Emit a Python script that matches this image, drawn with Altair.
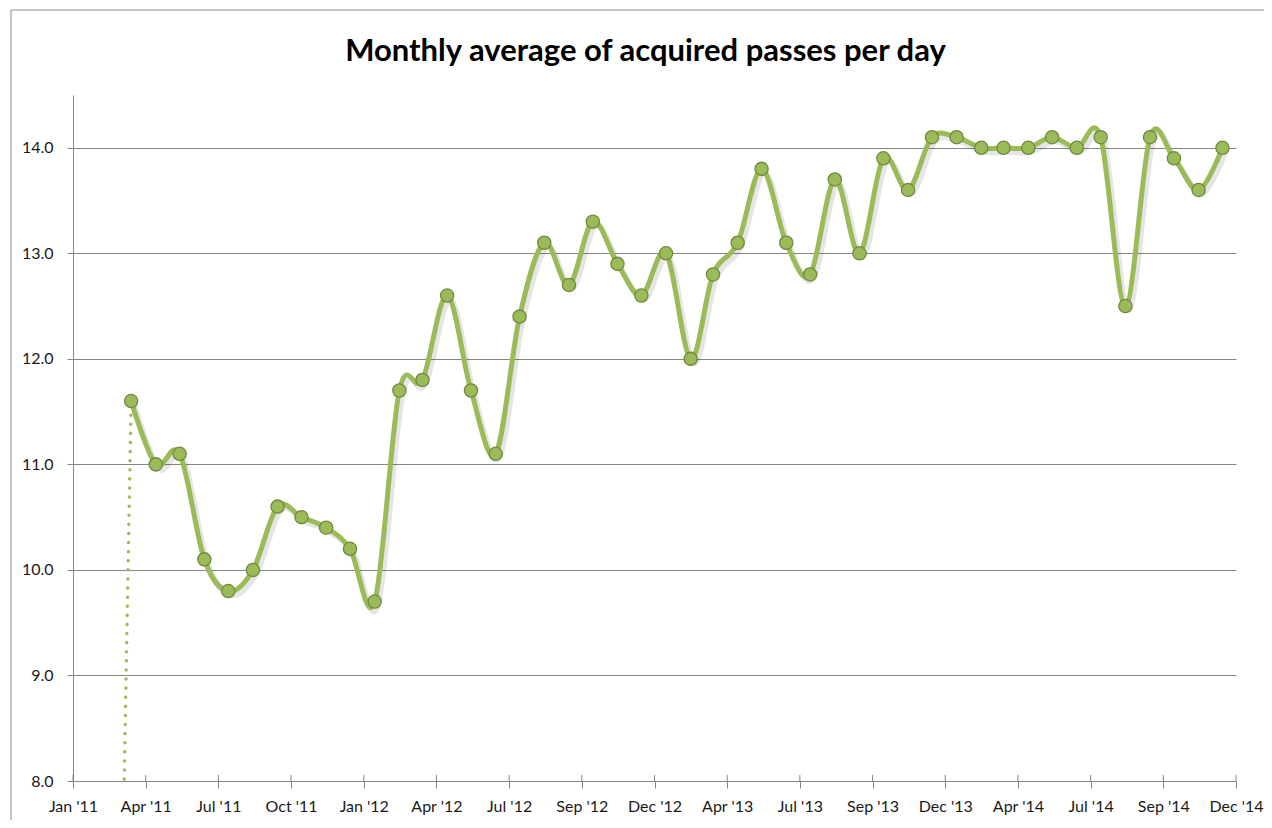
import json
import altair as alt
import pandas as pd

# ---- data ----
months = []
for y in range(2011, 2015):
    for m in range(1, 13):
        if y == 2011 and m < 3:
            continue
        months.append(f"{y}-{m:02d}-15")

passes = [11.6, 11.0, 11.1, 10.1, 9.8, 10.0, 10.6, 10.5, 10.4, 10.2,
          9.7, 11.7, 11.8, 12.6, 11.7, 11.1, 12.4, 13.1, 12.7, 13.3, 12.9, 12.6,
          13.0, 12.0, 12.8, 13.1, 13.8, 13.1, 12.8, 13.7, 13.0, 13.9, 13.6, 14.1,
          14.1, 14.0, 14.0, 14.0, 14.1, 14.0, 14.1, 12.5, 14.1, 13.9, 13.6, 14.0]

lead_dates = ["2011-02-15", "2011-03-15"]
lead_values = [0.0, 11.6]

tick_labels = ["Jan '11", "Apr '11", "Jul '11", "Oct '11", "Jan '12", "Apr '12",
               "Jul '12", "Sep '12", "Dec '12", "Apr '13", "Jul '13", "Sep '13",
               "Dec '13", "Apr '14", "Jul '14", "Sep '14", "Dec '14"]
y_ticks = [8, 9, 10, 11, 12, 13, 14]

df = pd.DataFrame({"date": months, "value": passes})
lead = pd.DataFrame({"date": lead_dates, "value": lead_values})

t0 = int(pd.Timestamp("2011-01-01", tz="UTC").timestamp() * 1000)
t1 = int(pd.Timestamp("2015-01-01", tz="UTC").timestamp() * 1000)
step = (t1 - t0) / (len(tick_labels) - 1)
tick_vals = [t0 + i * step for i in range(len(tick_labels))]
ticks_df = pd.DataFrame({"t": tick_vals})

label_expr = f"{json.dumps(tick_labels)}[round((datum.value - {t0}) / {step})]"

GREEN = "#9BBB59"
DARK = "#71893F"
GRAY = "#868686"
FONT = "Lato"

xscale = alt.Scale(type="utc", domain=[t0, t1])
yscale = alt.Scale(domain=[8, 14.5], nice=False, zero=False)

x_axis = alt.Axis(values=tick_vals, labelExpr=label_expr, grid=False, tickSize=7,
                  labelPadding=10, labelAngle=0, title=None, labelFontSize=16,
                  labelFont=FONT, labelColor="#1a1a1a", domainColor=GRAY,
                  tickColor=GRAY, labelOverlap=False, labelFlush=False,
                  labelBound=False)
y_axis = alt.Axis(values=y_ticks, format=".1f", grid=True, gridColor=GRAY,
                  tickSize=6, labelPadding=14, title=None, labelFontSize=16,
                  labelFont=FONT, labelColor="#1a1a1a", domainColor=GRAY,
                  tickColor=GRAY, labelOverlap=False)

base_x = alt.X("date:T", scale=xscale, axis=x_axis)
base_y = alt.Y("value:Q", scale=yscale, axis=y_axis)

shadow = alt.Chart(df).mark_line(
    interpolate="cardinal", color="#000000", opacity=0.10, strokeWidth=6,
    xOffset=3, yOffset=4
).encode(x=alt.X("date:T", scale=xscale), y=alt.Y("value:Q", scale=yscale))

lead_line = alt.Chart(lead).mark_line(
    color=GREEN, strokeWidth=3.4, strokeDash=[0.1, 9], strokeCap="round", clip=True
).encode(x=alt.X("date:T", scale=xscale), y=alt.Y("value:Q", scale=yscale))

line = alt.Chart(df).mark_line(
    interpolate="cardinal", color=GREEN, strokeWidth=5
).encode(x=base_x, y=base_y)

points = alt.Chart(df).mark_point(
    filled=True, fill=GREEN, stroke=DARK, strokeWidth=1.3, size=175, opacity=1
).encode(x=alt.X("date:T", scale=xscale), y=alt.Y("value:Q", scale=yscale))

tick_up = alt.Chart(ticks_df).mark_rule(color=GRAY, strokeWidth=1).encode(
    x=alt.X("t:T", scale=xscale), y=alt.value(680), y2=alt.value(686)
)

border_left = alt.Chart(ticks_df.head(1)).mark_rule(color="#8c8c8c", strokeWidth=1, clip=False).encode(
    x=alt.value(-62), y=alt.value(-85), y2=alt.value(760)
)
border_top = alt.Chart(ticks_df.head(1)).mark_rule(color="#8c8c8c", strokeWidth=1, clip=False).encode(
    x=alt.value(-62), x2=alt.value(1240), y=alt.value(-85)
)

chart = alt.layer(
    border_left, border_top, tick_up, shadow, lead_line, line, points
).properties(
    width=1163,
    height=686,
    autosize=alt.AutoSizeParams(type="none"),
    padding={"left": 65, "top": 87, "right": 28, "bottom": 39},
    title=alt.TitleParams(
        "Monthly average of acquired passes per day",
        font=FONT, fontSize=31, fontWeight="bold", color="#000000",
        anchor="middle", dx=-9, offset=-58
    ),
).configure_view(stroke=None)

chart.save("out.html", embed_options={"renderer": "svg", "actions": False})
